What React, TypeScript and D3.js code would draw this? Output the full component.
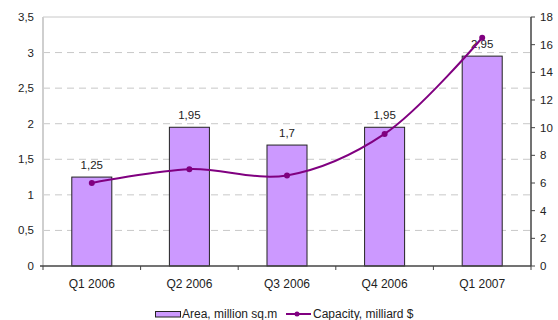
import React from "react";
import * as d3 from "d3";

const categories = ["Q1 2006", "Q2 2006", "Q3 2006", "Q4 2006", "Q1 2007"];
const areaValues = [1.25, 1.95, 1.7, 1.95, 2.95];
const areaLabels = ["1,25", "1,95", "1,7", "1,95", "2,95"];
const capacityValues = [6.0, 7.0, 6.55, 9.55, 16.5];
const leftTicks = [0, 0.5, 1, 1.5, 2, 2.5, 3, 3.5];
const rightTicks = [0, 2, 4, 6, 8, 10, 12, 14, 16, 18];

const W = 558, H = 320;
const L = 43, R = 531, T = 17, B = 266;
const font = "Liberation Sans, Arial, sans-serif";
const fmt = (v: number) => String(v).replace(".", ",");

export default function App() {
  const x = d3.scaleBand<string>().domain(categories).range([L, R]).paddingInner(0).paddingOuter(0);
  const yL = d3.scaleLinear().domain([0, 3.5]).range([B, T]);
  const yR = d3.scaleLinear().domain([0, 18]).range([B, T]);
  const bw = x.bandwidth() * 0.41;
  const pts: [number, number][] = capacityValues.map((v, i) => [x(categories[i])! + x.bandwidth() / 2, yR(v)]);
  const line = d3.line().curve(d3.curveCatmullRom.alpha(0.5))(pts) || "";
  const boundaries = categories.map((c) => x(c)!).concat([R]);

  return (
    <svg width={W} height={H} style={{ position: "absolute", left: 0, top: 0, background: "#fff" }} fontFamily={font}>
      {leftTicks.filter((t) => t > 0 && t < 3.5).map((t) => (
        <line key={"g" + t} x1={L} x2={R} y1={yL(t)} y2={yL(t)} stroke="#c8c8c8" strokeWidth={1} strokeDasharray="7,5" />
      ))}
      <line x1={L} x2={R} y1={T} y2={T} stroke="#c8c8c8" strokeWidth={1} />
      <line x1={L} x2={L} y1={T} y2={B} stroke="#cfcfcf" strokeWidth={2} />
      {areaValues.map((v, i) => {
        const cx = x(categories[i])! + x.bandwidth() / 2;
        return (
          <g key={i}>
            <rect x={cx - bw / 2} y={yL(v)} width={bw} height={B - yL(v)} fill="#cc99ff" stroke="#222" strokeWidth={1} />
            <text x={cx} y={yL(v) - 8} textAnchor="middle" fontSize={11.5} fill="#222">{areaLabels[i]}</text>
          </g>
        );
      })}
      <path d={line} fill="none" stroke="#800080" strokeWidth={2} />
      {pts.map((p, i) => (
        <circle key={i} cx={p[0]} cy={p[1]} r={3} fill="#800080" />
      ))}
      <line x1={L - 3} x2={R} y1={B} y2={B} stroke="#444" strokeWidth={1.5} />
      {boundaries.map((bx, i) => (
        <line key={i} x1={bx} x2={bx} y1={B} y2={B + 4} stroke="#444" strokeWidth={1} />
      ))}
      <line x1={R} x2={R} y1={T} y2={B} stroke="#444" strokeWidth={1.5} />
      {rightTicks.map((t) => (
        <g key={"r" + t}>
          <line x1={R} x2={R + 4} y1={yR(t)} y2={yR(t)} stroke="#444" strokeWidth={1} />
          <text x={540} y={yR(t) + 4} fontSize={11.5} fill="#222">{t}</text>
        </g>
      ))}
      {leftTicks.map((t) => (
        <text key={"l" + t} x={34} y={yL(t) + 4} textAnchor="end" fontSize={11.5} fill="#222">{fmt(t)}</text>
      ))}
      {categories.map((c) => (
        <text key={c} x={x(c)! + x.bandwidth() / 2} y={287.5} textAnchor="middle" fontSize={12} fill="#222">{c}</text>
      ))}
      <g>
        <rect x={155.5} y={311.5} width={25} height={5.5} fill="#cc99ff" stroke="#222" strokeWidth={1} />
        <text x={182} y={318} fontSize={12} fill="#222">Area, million sq.m</text>
        <line x1={286} x2={311} y1={314} y2={314} stroke="#800080" strokeWidth={2} />
        <circle cx={297} cy={314} r={2.5} fill="#800080" />
        <text x={313} y={318} fontSize={12} fill="#222">Capacity, milliard $</text>
      </g>
    </svg>
  );
}
